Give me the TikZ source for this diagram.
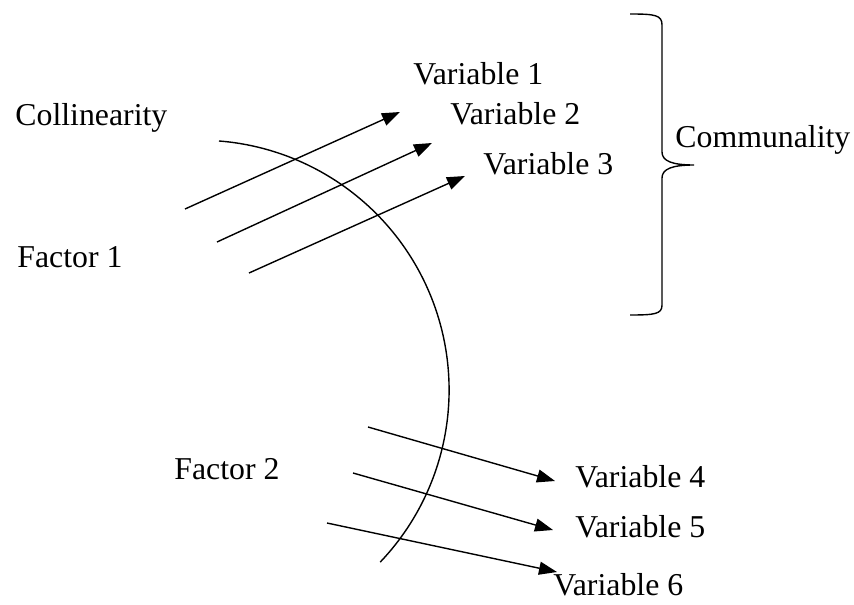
\documentclass[tikz,border=0pt]{standalone}
\usepackage{fontspec}
\setmainfont{Liberation Serif}
\usetikzlibrary{arrows.meta}
\begin{document}
\begin{tikzpicture}[x=0.5pt,y=-0.5pt,
  lbl/.style={anchor=base west,inner sep=0pt,font=\fontsize{15.9pt}{18pt}\selectfont},
  arr/.style={line width=0.7pt,-{Triangle[length=9pt,width=6.5pt]}},
  ln/.style={line width=0.7pt}]
\useasboundingbox (0,0) rectangle (854,604);
% labels
\node[lbl] (coll) at (15,126) {Collinearity};
\node[lbl] (f1) at (17,267) {Factor 1};
\node[lbl] (f2) at (174,479) {Factor 2};
\node[lbl] (v1) at (413,85) {Variable 1};
\node[lbl] (v2) at (450,125) {Variable 2};
\node[lbl] (v3) at (483,175) {Variable 3};
\node[lbl] (v4) at (575,487) {Variable 4};
\node[lbl] (v5) at (575,537) {Variable 5};
\node[lbl] (v6) at (553,595) {Variable 6};
\node[lbl] (comm) at (675,148) {Communality};
% arrow end points
\coordinate (s1) at (185,209); \coordinate (t1) at (400,112);
\coordinate (s2) at (217,242); \coordinate (t2) at (432,143);
\coordinate (s3) at (249,273); \coordinate (t3) at (465,176);
\coordinate (s4) at (368,427); \coordinate (t4) at (555,481);
\coordinate (s5) at (353,473); \coordinate (t5) at (553,530);
\coordinate (s6) at (327,523); \coordinate (t6) at (557,572);
\draw[arr] (s1) -- (t1);
\draw[arr] (s2) -- (t2);
\draw[arr] (s3) -- (t3);
\draw[arr] (s4) -- (t4);
\draw[arr] (s5) -- (t5);
\draw[arr] (s6) -- (t6);
% curve (circular arc)
\draw[ln] plot[domain=-43.6:85.5,samples=80,smooth] ({199.4+249.7*cos(\x)},{389.9-249.7*sin(\x)});
% brace
\coordinate (bt) at (630,14);
\coordinate (bm) at (694,165);
\coordinate (bb) at (630,315);
\draw[ln] (bt) .. controls (655,14) and (662,15) .. (662,25) -- (662,152)
  .. controls (662,161) and (672,165) .. (bm)
  .. controls (672,165) and (662,169) .. (662,178) -- (662,305)
  .. controls (662,314) and (655,315) .. (bb);
\end{tikzpicture}
\end{document}
